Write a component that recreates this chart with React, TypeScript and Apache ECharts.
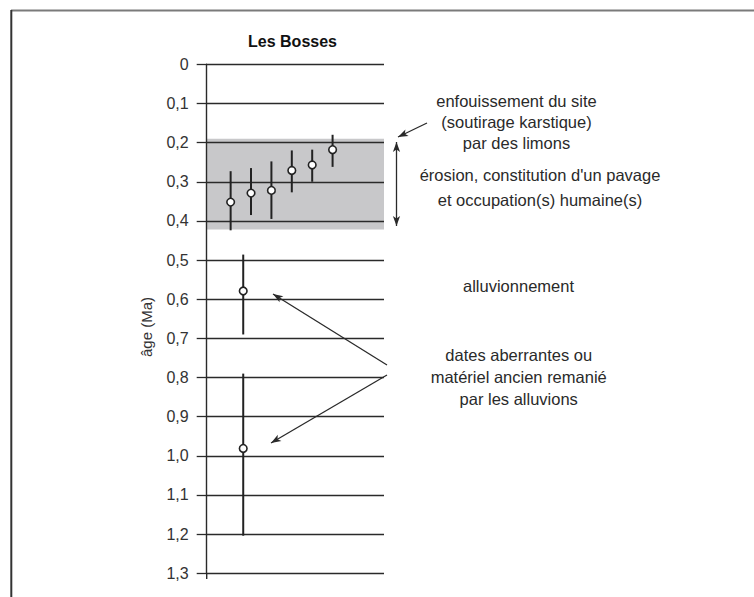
import React, { useEffect, useRef } from "react";
import * as echarts from "echarts";

// Sample positions along the (hidden) horizontal axis
const sampleX = [13.5, 25, 36.5, 48, 59.5, 71, 20.6, 20.6];
// Ages (Ma): central value and error-bar bounds
const ageValue = [0.352, 0.329, 0.322, 0.271, 0.257, 0.218, 0.579, 0.981];
const ageLow = [0.273, 0.265, 0.248, 0.22, 0.218, 0.18, 0.486, 0.79];
const ageHigh = [0.424, 0.385, 0.395, 0.327, 0.3, 0.262, 0.69, 1.204];
// Grey band (erosion / paving / occupation)
const bandFrom = 0.19;
const bandTo = 0.422;
// Tick labels
const tickLabels = ["0", "0,1", "0,2", "0,3", "0,4", "0,5", "0,6", "0,7", "0,8", "0,9", "1,0", "1,1", "1,2", "1,3"];

const FONT = "'Liberation Sans', Arial, sans-serif";
const INK = "#2a2a2a";

function arrowHead(fx: number, fy: number, tx: number, ty: number, len = 10, half = 3.6) {
  const dx = tx - fx;
  const dy = ty - fy;
  const d = Math.sqrt(dx * dx + dy * dy);
  const ux = dx / d;
  const uy = dy / d;
  const bx = tx - ux * len;
  const by = ty - uy * len;
  return {
    type: "polygon",
    shape: {
      points: [
        [tx, ty],
        [bx - uy * half, by + ux * half],
        [bx + ux * 2.5, by + uy * 2.5],
        [bx + uy * half, by - ux * half],
      ],
    },
    style: { fill: INK },
  };
}

function arrow(fx: number, fy: number, tx: number, ty: number, both = false) {
  const els: any[] = [
    { type: "line", shape: { x1: fx, y1: fy, x2: tx, y2: ty }, style: { stroke: INK, lineWidth: 1.3 } },
    arrowHead(fx, fy, tx, ty),
  ];
  if (both) els.push(arrowHead(tx, ty, fx, fy));
  return els;
}

function text(str: string, x: number, y: number, extra: any = {}) {
  return {
    type: "text",
    x,
    y,
    style: {
      text: str,
      fill: INK,
      font: `16.5px ${FONT}`,
      textAlign: "center",
      textVerticalAlign: "middle",
      ...extra,
    },
  };
}

export default function App() {
  const ref = useRef<HTMLDivElement>(null);
  useEffect(() => {
    document.body.style.margin = "0";
    const chart = echarts.init(ref.current!, undefined, { renderer: "svg" });
    const errData = sampleX.map((x, i) => [x, ageLow[i], ageHigh[i]]);
    const ptData = sampleX.map((x, i) => [x, ageValue[i]]);
    chart.setOption({
      animation: false,
      backgroundColor: "#fff",
      grid: { left: 206.7, right: 370, top: 64.3, bottom: 23.7 },
      xAxis: { type: "value", min: 0, max: 100, show: false },
      yAxis: {
        type: "value",
        inverse: true,
        min: 0,
        max: 1.3,
        interval: 0.1,
        z: 3,
        axisLine: { show: true, lineStyle: { color: INK, width: 1.4 } },
        axisTick: { show: true, length: 10, inside: false, lineStyle: { color: INK, width: 1.3 } },
        splitLine: { show: true, lineStyle: { color: INK, width: 1.3 } },
        axisLabel: {
          margin: 18,
          color: "#333",
          fontSize: 16,
          fontFamily: FONT,
          formatter: (v: number) => tickLabels[Math.round(v * 10)],
        },
      },
      series: [
        {
          type: "line",
          data: [],
          z: 1,
          markArea: {
            silent: true,
            itemStyle: { color: "#c8c8ca" },
            data: [[{ yAxis: bandFrom }, { yAxis: bandTo }]],
          },
        },
        {
          type: "custom",
          z: 4,
          data: errData,
          encode: { x: 0, y: [1, 2] },
          renderItem: (params: any, api: any) => {
            const x = api.value(0);
            const a = api.coord([x, api.value(1)]);
            const b = api.coord([x, api.value(2)]);
            return {
              type: "line",
              shape: { x1: a[0], y1: a[1], x2: b[0], y2: b[1] },
              style: { stroke: "#222", lineWidth: 2 },
            };
          },
        },
        {
          type: "scatter",
          z: 5,
          data: ptData,
          symbol: "circle",
          symbolSize: 7.6,
          itemStyle: { color: "#fff", borderColor: "#222", borderWidth: 1.6, opacity: 1 },
        },
      ],
      graphic: [
        // frame
        { type: "line", shape: { x1: 11, y1: 10.5, x2: 754, y2: 10.5 }, style: { stroke: "#7a7a7a", lineWidth: 2 } },
        { type: "line", shape: { x1: 11.3, y1: 10, x2: 11.3, y2: 597 }, style: { stroke: "#333", lineWidth: 2 } },
        // axis extension below 1,3
        { type: "line", shape: { x1: 206.7, y1: 573, x2: 206.7, y2: 579 }, style: { stroke: INK, lineWidth: 1.4 } },
        // title
        text("Les Bosses", 292.5, 41.5, { font: `bold 16px ${FONT}`, fill: "#111" }),
        // axis name
        {
          type: "text",
          x: 146.5,
          y: 327,
          rotation: Math.PI / 2,
          style: { text: "âge (Ma)", fill: "#333", font: `15px ${FONT}`, textAlign: "center", textVerticalAlign: "middle" },
        },
        // annotation texts
        text("enfouissement du site", 516.5, 101),
        text("(soutirage karstique)", 516.5, 122),
        text("par des limons", 516.5, 143),
        text("érosion, constitution d'un pavage", 540, 175),
        text("et occupation(s) humaine(s)", 540, 199.5),
        text("alluvionnement", 518.5, 286),
        text("dates aberrantes ou", 518.7, 354.5),
        text("matériel ancien remanié", 518.7, 376.7),
        text("par les alluvions", 518.7, 399),
        // arrows
        ...arrow(427, 123, 398, 137),
        ...arrow(396.5, 226, 396.5, 142, true),
        ...arrow(387, 365, 273, 294),
        ...arrow(387, 375, 271, 443),
      ],
    });
    return () => chart.dispose();
  }, []);
  return <div ref={ref} style={{ width: 754, height: 597 }} />;
}
